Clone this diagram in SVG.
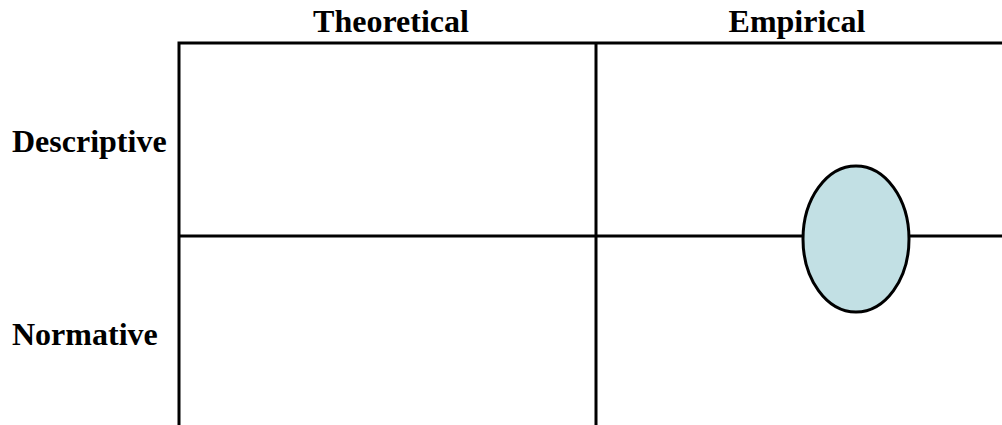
<svg xmlns="http://www.w3.org/2000/svg" width="1002" height="425" viewBox="0 0 1002 425">
<style>
.lbl{font-family:"Liberation Serif","Times New Roman",serif;font-weight:bold;font-size:32px;fill:#000}
.ln{stroke:#000;stroke-width:3;fill:none}
</style>
<rect width="1002" height="425" fill="#fff"/>
<g id="grid">
<path class="ln" d="M179,425 V43 H1002"/>
<path class="ln" d="M596,43 V425"/>
<path class="ln" d="M179,236 H1002"/>
</g>
<g id="header-theoretical"><text class="lbl" x="391" y="32" text-anchor="middle">Theoretical</text></g>
<g id="header-empirical"><text class="lbl" x="797" y="32" text-anchor="middle">Empirical</text></g>
<g id="row-descriptive"><text class="lbl" x="12" y="152">Descriptive</text></g>
<g id="row-normative"><text class="lbl" x="12" y="345">Normative</text></g>
<g id="ellipse"><ellipse cx="856" cy="239" rx="53" ry="73" fill="#c2e0e4" stroke="#000" stroke-width="3"/></g>
</svg>
